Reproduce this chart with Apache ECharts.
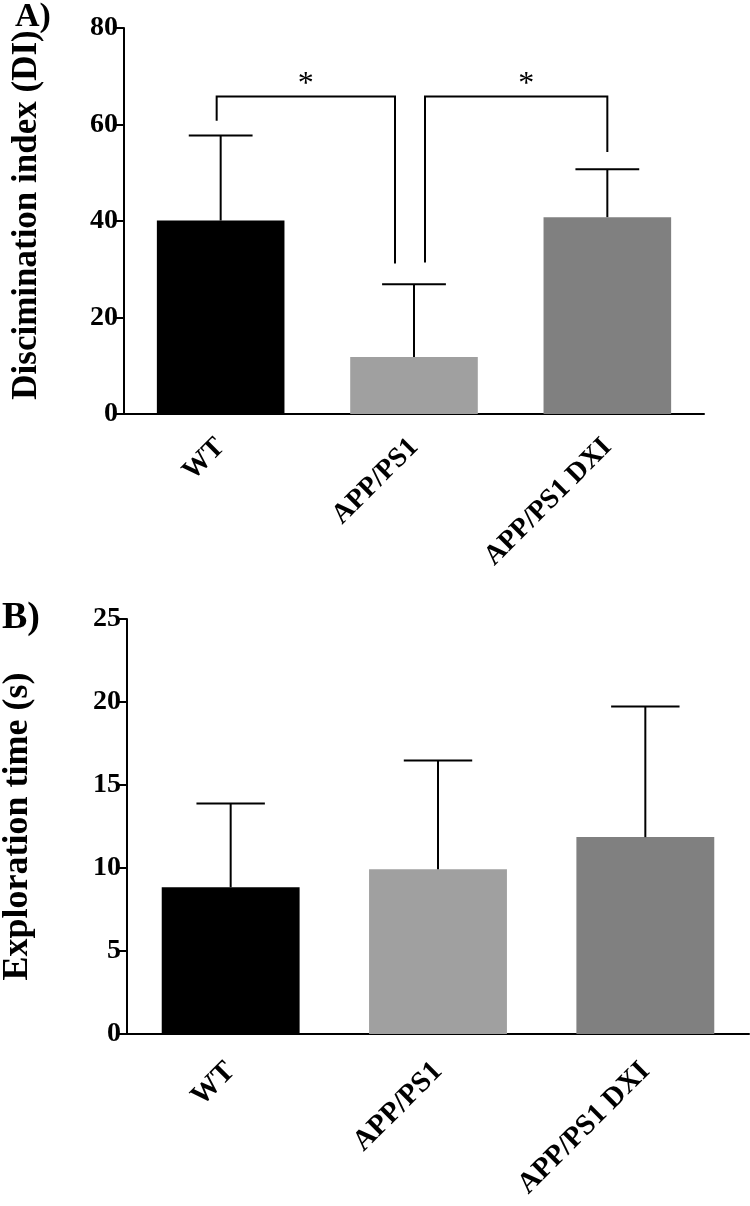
<!DOCTYPE html>
<html>
<head>
<meta charset="utf-8">
<script src="https://cdn.jsdelivr.net/npm/echarts@6/dist/echarts.min.js"></script>
<style>
html,body{margin:0;padding:0;background:#fff;}
#chart{width:750px;height:1206px;}
</style>
</head>
<body>
<div id="chart"></div>
<script>
// ---- data ----
const categories = ['WT', 'APP/PS1', 'APP/PS1 DXI'];
const barColors = ['#000000', '#a0a0a0', '#808080'];

// Panel A: discrimination index (mean and SEM)
const diMean = [40.1, 11.8, 40.8];
const diSem  = [17.6, 15.1, 9.9];
const diTicks = { min: 0, max: 80, interval: 20 };

// significance brackets: [fromIdx, toIdx, topY, leftLegEndY, rightLegEndY]
const diBrackets = [
  [0, 1, 65.8, 60.8, 31.2],
  [1, 2, 65.8, 31.4, 54.3]
];
const diBracketLabels = ['*', '*'];

// Panel B: exploration time (mean and SEM)
const timeMean = [8.84, 9.93, 11.86];
const timeSem  = [5.04, 6.54, 7.87];
const timeTicks = { min: 0, max: 25, interval: 5 };

// ---- styles ----
const FONT = 'Liberation Serif';
const LINE_W = 2;

function errorRender(capFrac) {
  return function (params, api) {
    const idx = api.value(0), m = api.value(1), e = api.value(2);
    const p0 = api.coord([idx, m]);
    const p1 = api.coord([idx, m + e]);
    const band = api.size([1, 0])[0];
    const half = band * capFrac / 2;
    const st = { stroke: '#000', lineWidth: LINE_W };
    return {
      type: 'group',
      children: [
        { type: 'line', shape: { x1: p0[0], y1: p0[1], x2: p1[0], y2: p1[1] }, style: st },
        { type: 'line', shape: { x1: p1[0] - half, y1: p1[1], x2: p1[0] + half, y2: p1[1] }, style: st }
      ]
    };
  };
}

// pixel nudges of bracket legs relative to category centres (style only)
const legNudge = [[-4, -19], [11, 0]];
const starNudge = [0, 10];

function bracketRender(params, api) {
  const i = params.dataIndex;
  const a = api.value(0), b = api.value(1), top = api.value(2), le = api.value(3), re = api.value(4);
  const pa = api.coord([a, top]), pb = api.coord([b, top]);
  const pla = api.coord([a, le]), plb = api.coord([b, re]);
  const xl = pa[0] + legNudge[i][0], xr = pb[0] + legNudge[i][1];
  const st = { stroke: '#000', lineWidth: LINE_W, fill: null };
  return {
    type: 'group',
    children: [
      { type: 'polyline', shape: { points: [[xl, pla[1]], [xl, pa[1]], [xr, pa[1]], [xr, plb[1]]] }, style: st },
      { type: 'text', style: { text: diBracketLabels[i], x: (xl + xr) / 2 + starNudge[i], y: pa[1] - 12,
          textAlign: 'center', textVerticalAlign: 'middle', font: '32px ' + FONT, fill: '#000' } }
    ]
  };
}

const axisLabelStyle = { fontFamily: FONT, fontWeight: 'bold', color: '#000' };

function xAxisDef(gridIndex, tickLen, fontSize, margin) {
  return {
    type: 'category', gridIndex: gridIndex, data: categories,
    axisLine: { lineStyle: { color: '#000', width: LINE_W } },
    axisTick: { alignWithLabel: true, length: tickLen, lineStyle: { color: '#000', width: LINE_W } },
    axisLabel: Object.assign({ fontSize: fontSize, rotate: 45, margin: margin, interval: 0, hideOverlap: false }, axisLabelStyle),
    splitLine: { show: false }
  };
}
function yAxisDef(gridIndex, ticks, name, gap, pad, nameSize) {
  return {
    type: 'value', gridIndex: gridIndex, min: ticks.min, max: ticks.max, interval: ticks.interval,
    name: name, nameLocation: 'middle', nameGap: gap,
    nameTextStyle: { fontFamily: FONT, fontWeight: 'bold', fontSize: nameSize, color: '#000', padding: pad },
    axisLine: { show: true, lineStyle: { color: '#000', width: LINE_W } },
    axisTick: { show: true, length: 10, lineStyle: { color: '#000', width: LINE_W } },
    axisLabel: Object.assign({ fontSize: 28, margin: 6 }, axisLabelStyle),
    splitLine: { show: false }
  };
}

const chart = echarts.init(document.getElementById('chart'), null, { renderer: 'canvas' });
chart.setOption({
  backgroundColor: '#fff',
  animation: false,
  title: [
    { text: 'A)', left: 10, top: -5, textStyle: { fontFamily: FONT, fontWeight: 'bold', fontSize: 34, color: '#000' } },
    { text: 'B)', left: -3, top: 594, textStyle: { fontFamily: FONT, fontWeight: 'bold', fontSize: 38, color: '#000' } }
  ],
  grid: [
    { left: 124, right: 46, top: 28, bottom: 792, containLabel: false, outerBoundsMode: 'none' },
    { left: 127, right: 1, top: 619, bottom: 172, containLabel: false, outerBoundsMode: 'none' }
  ],
  xAxis: [xAxisDef(0, 11, 28, 29), xAxisDef(1, 12, 29, 33)],
  yAxis: [
    yAxisDef(0, diTicks, 'Discimination index (DI)', 80, [0, 0, 0, 12], 35),
    yAxisDef(1, timeTicks, 'Exploration time (s)', 91, [0, 0, 0, 0], 36)
  ],
  series: [
    {
      type: 'bar', xAxisIndex: 0, yAxisIndex: 0, barWidth: '66%',
      data: diMean.map((v, i) => ({ value: v, itemStyle: { color: barColors[i] } }))
    },
    {
      type: 'custom', xAxisIndex: 0, yAxisIndex: 0, renderItem: errorRender(0.33),
      data: diMean.map((v, i) => [i, v, diSem[i]]), z: 3
    },
    {
      type: 'custom', xAxisIndex: 0, yAxisIndex: 0, renderItem: bracketRender,
      encode: { x: [0, 1], y: [2, 3, 4] },
      data: diBrackets, z: 4
    },
    {
      type: 'bar', xAxisIndex: 1, yAxisIndex: 1, barWidth: '66.5%',
      data: timeMean.map((v, i) => ({ value: v, itemStyle: { color: barColors[i] } }))
    },
    {
      type: 'custom', xAxisIndex: 1, yAxisIndex: 1, renderItem: errorRender(0.33),
      data: timeMean.map((v, i) => [i, v, timeSem[i]]), z: 3
    }
  ]
});
</script>
</body>
</html>
